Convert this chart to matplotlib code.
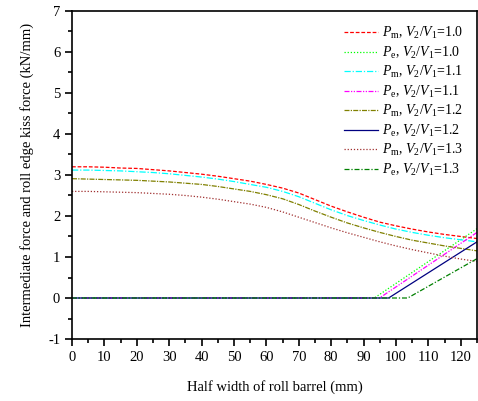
import matplotlib
matplotlib.use('Agg')
import matplotlib.pyplot as plt
from matplotlib.ticker import MultipleLocator

plt.rcParams['font.family'] = 'Liberation Serif'
plt.rcParams['mathtext.fontset'] = 'custom'
plt.rcParams['mathtext.rm'] = 'Liberation Serif'
plt.rcParams['mathtext.it'] = 'Liberation Serif:italic'
plt.rcParams['axes.unicode_minus'] = False

# half width positions (mm) for the intermediate force curves
x = [0, 5, 10, 15, 20, 25, 30, 35, 40, 45, 50, 55, 60, 65, 70, 75, 80, 85,
     90, 95, 100, 105, 110, 115, 120, 125]

pm10 = [3.20, 3.20, 3.19, 3.17, 3.16, 3.13, 3.10, 3.06, 3.02, 2.97, 2.91, 2.85, 2.77,
        2.68, 2.56, 2.40, 2.24, 2.10, 1.97, 1.85, 1.76, 1.68, 1.61, 1.55, 1.50, 1.45]
pm11 = [3.12, 3.12, 3.11, 3.10, 3.08, 3.06, 3.03, 2.99, 2.95, 2.90, 2.84, 2.77, 2.70,
        2.60, 2.47, 2.31, 2.15, 2.01, 1.89, 1.78, 1.68, 1.60, 1.53, 1.47, 1.42, 1.37]
pm12 = [2.91, 2.90, 2.89, 2.88, 2.87, 2.85, 2.83, 2.80, 2.77, 2.72, 2.66, 2.60, 2.52,
        2.42, 2.28, 2.12, 1.97, 1.83, 1.71, 1.60, 1.50, 1.41, 1.34, 1.27, 1.21, 1.15]
pm13 = [2.60, 2.60, 2.59, 2.58, 2.57, 2.55, 2.53, 2.50, 2.46, 2.41, 2.35, 2.29, 2.21,
        2.10, 1.97, 1.84, 1.71, 1.59, 1.48, 1.37, 1.27, 1.18, 1.10, 1.02, 0.95, 0.89]

# roll edge kiss force: zero until contact, then rising
pe10_x = [0, 93.3, 125]
pe10 = [0, 0, 1.69]
pe11_x = [0, 94.9, 125]
pe11 = [0, 0, 1.60]
pe12_x = [0, 97.7, 125]
pe12 = [0, 0, 1.37]
pe13_x = [0, 103.6, 125]
pe13 = [0, 0, 0.96]

labels = [r'$P_{\rm m}$, $V_2/V_1$=1.0', r'$P_{\rm e}$, $V_2/V_1$=1.0',
          r'$P_{\rm m}$, $V_2/V_1$=1.1', r'$P_{\rm e}$, $V_2/V_1$=1.1',
          r'$P_{\rm m}$, $V_2/V_1$=1.2', r'$P_{\rm e}$, $V_2/V_1$=1.2',
          r'$P_{\rm m}$, $V_2/V_1$=1.3', r'$P_{\rm e}$, $V_2/V_1$=1.3']

fig = plt.figure(figsize=(4.78, 4.01), dpi=100)
ax = fig.add_axes([0.1506, 0.1546, 0.8474, 0.818])

lw = 0.9
ax.plot(x, pm10, color='red', ls=(0, (3, 1.5)), lw=lw, label=labels[0])
ax.plot(pe10_x, pe10, color='#00ff00', ls=(0, (1, 1.5)), lw=lw, label=labels[1])
ax.plot(x, pm11, color='cyan', ls=(0, (5, 1.5, 1, 1.5)), lw=lw, label=labels[2])
ax.plot(pe11_x, pe11, color='magenta', ls=(0, (4, 1.2, 1, 1.2, 1, 1.2)), lw=lw, label=labels[3])
ax.plot(x, pm12, color='#808000', ls=(0, (4, 1, 1, 1)), lw=lw, label=labels[4])
ax.plot(pe12_x, pe12, color='#000080', ls='-', lw=lw, label=labels[5])
ax.plot(x, pm13, color='#a03030', ls=(0, (1, 1.5)), lw=lw, label=labels[6])
ax.plot(pe13_x, pe13, color='#008000', ls=(0, (4, 1.5, 1, 1.5)), lw=lw, label=labels[7])

ax.set_xlim(0, 125)
ax.set_ylim(-1, 7)
ax.xaxis.set_major_locator(MultipleLocator(10))
ax.xaxis.set_minor_locator(MultipleLocator(5))
ax.yaxis.set_major_locator(MultipleLocator(1))
ax.yaxis.set_minor_locator(MultipleLocator(0.5))
ax.tick_params(which='both', direction='out', top=False, right=False, labelsize=10.5, width=1.2)
ax.tick_params(which='major', length=5)
ax.tick_params(which='minor', length=3)
for s in ax.spines.values():
    s.set_linewidth(1.2)

ax.set_xlabel('Half width of roll barrel (mm)', fontsize=10.5, labelpad=12)
ax.set_ylabel('Intermediate force and roll edge kiss force (kN/mm)', fontsize=10.5, labelpad=10)

ax.legend(loc='upper right', frameon=False, fontsize=10, handlelength=2.5,
          handletextpad=0.25, labelspacing=0.25, borderaxespad=0.6)

fig.savefig('out.png', dpi=100)
